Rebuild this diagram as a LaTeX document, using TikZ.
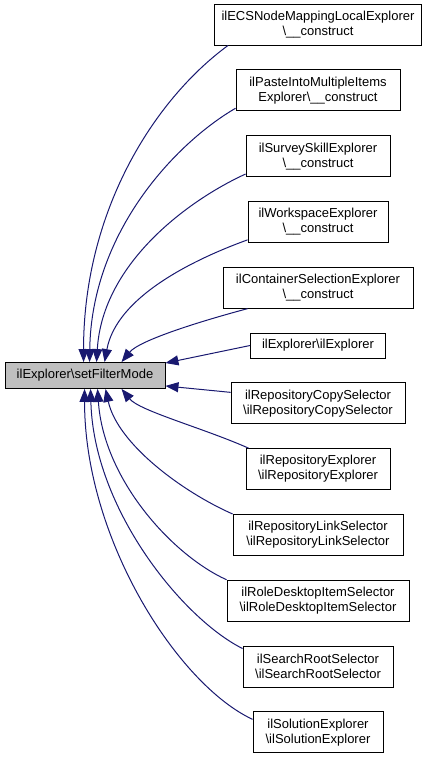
\documentclass[tikz,border=0pt]{standalone}
\usepackage{fontspec}
\setmainfont{Liberation Sans}
\usetikzlibrary{arrows.meta, positioning}
\definecolor{edgeblue}{RGB}{25,25,112}

\begin{document}
\begin{tikzpicture} [x=1pt, y=-1pt, node distance = 65.8pt, on grid,
        box/.style = {draw=black, line width=0.9pt, fill=white, inner sep=0pt, align=center,
            minimum height=41pt, font=\fontsize{13pt}{15pt}\selectfont},
        arr/.style = {-{Triangle[length=13pt, width=10pt]}, draw=edgeblue, line width=1pt}]
    \useasboundingbox (0,0) rectangle (432,757);

    \node (root) [box, fill=black!25, minimum width=160pt, minimum height=26pt] at (85,375.5) {ilExplorer\textbackslash setFilterMode};

    \node (ecs) [box, minimum width=207pt] at (318,24.5) {ilECSNodeMappingLocalExplorer\\\textbackslash\_\_construct};
    \node (paste) [box, minimum width=164pt, below = of ecs] {ilPasteIntoMultipleItems\\Explorer\textbackslash\_\_construct};
    \node (survey) [box, minimum width=144pt, below = of paste] {ilSurveySkillExplorer\\\textbackslash\_\_construct};
    \node (workspace) [box, minimum width=140pt, below = of survey] {ilWorkspaceExplorer\\\textbackslash\_\_construct};
    \node (container) [box, minimum width=190pt, below = of workspace] {ilContainerSelectionExplorer\\\textbackslash\_\_construct};
    \node (explorer) [box, minimum width=135pt, minimum height=25pt, below = 57.8pt of container] {ilExplorer\textbackslash ilExplorer};
    \node (copysel) [box, minimum width=174pt, below = 57.8pt of explorer] {ilRepositoryCopySelector\\\textbackslash ilRepositoryCopySelector};
    \node (repoexp) [box, minimum width=144pt, below = of copysel] {ilRepositoryExplorer\\\textbackslash ilRepositoryExplorer};
    \node (linksel) [box, minimum width=170pt, below = of repoexp] {ilRepositoryLinkSelector\\\textbackslash ilRepositoryLinkSelector};
    \node (roledesk) [box, minimum width=182pt, below = of linksel] {ilRoleDesktopItemSelector\\\textbackslash ilRoleDesktopItemSelector};
    \node (searchroot) [box, minimum width=150pt, below = of roledesk] {ilSearchRootSelector\\\textbackslash ilSearchRootSelector};
    \node (solution) [box, minimum width=130pt, below = of searchroot] {ilSolutionExplorer\\\textbackslash ilSolutionExplorer};

    % callers above the root
    \draw [arr] ([xshift=14pt]ecs.south west) .. controls +(-75,55) and +(0,-150) .. ([xshift=79pt]root.north west);
    \draw [arr] ([yshift=3pt]paste.south west) .. controls +(-60,35) and +(2,-130) .. ([xshift=85pt]root.north west);
    \draw [arr] ([yshift=3pt]survey.south west) .. controls +(-55,25) and +(6,-100) .. ([xshift=92pt]root.north west);
    \draw [arr] ([yshift=3pt]workspace.south west) .. controls +(-55,20) and +(12,-65) .. ([xshift=100pt]root.north west);
    \draw [arr] ([xshift=25pt]container.south west) .. controls +(-45,12) and +(18,-22) .. ([xshift=117pt]root.north west);

    % callers beside the root
    \draw [arr] (explorer.west) -- ([yshift=-1pt]root.north east);
    \draw [arr] ([yshift=-10pt]copysel.north west) -- ([yshift=3pt]root.south east);

    % callers below the root
    \draw [arr] ([xshift=3pt]repoexp.north west) .. controls +(-45,-20) and +(18,22) .. ([xshift=117pt]root.south west);
    \draw [arr] (linksel.north west) .. controls +(-50,-22) and +(12,55) .. ([xshift=101pt]root.south west);
    \draw [arr] (roledesk.north west) .. controls +(-55,-25) and +(6,90) .. ([xshift=93pt]root.south west);
    \draw [arr] ([yshift=-3pt]searchroot.north west) .. controls +(-60,-30) and +(3,120) .. ([xshift=86pt]root.south west);
    \draw [arr] ([yshift=-8pt]solution.north west) .. controls +(-75,-35) and +(0,150) .. ([xshift=80pt]root.south west);
\end{tikzpicture}
\end{document}
